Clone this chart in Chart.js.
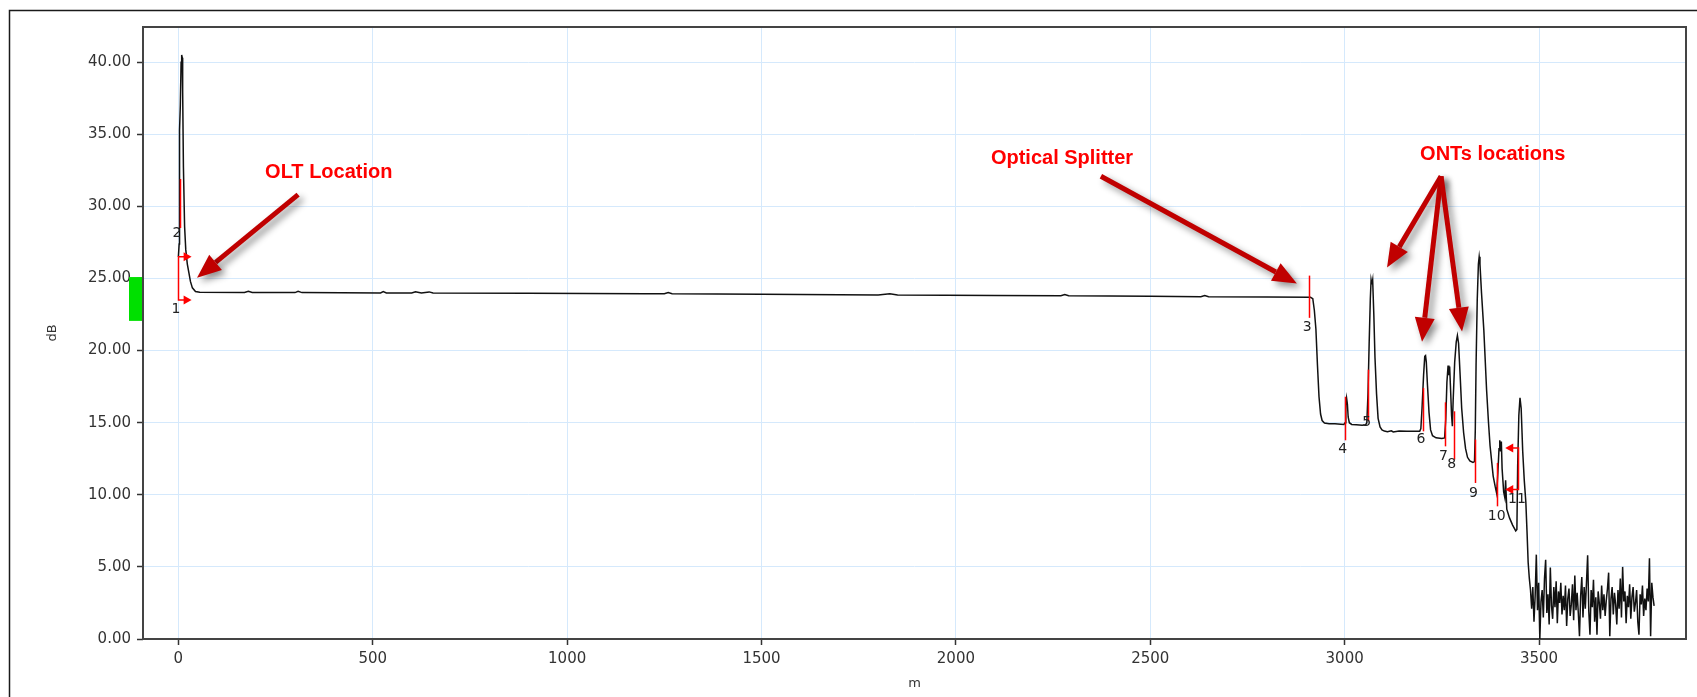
<!DOCTYPE html>
<html>
<head>
<meta charset="utf-8">
<script src="https://cdn.jsdelivr.net/npm/chart.js@4.4.1/dist/chart.umd.min.js"></script>
<style>
  html, body { margin: 0; padding: 0; background: #fff; }
  #wrap { position: relative; width: 1697px; height: 697px; }
</style>
</head>
<body>
<div id="wrap"><canvas id="otdr"></canvas></div>
<script>
// trace, distance in m / level in dB
const distM = [
  0, 2, 3, 5, 7, 8.5, 10, 11, 13, 16, 19, 23, 27, 31, 36, 44, 55,
  170, 180, 190, 300, 308, 318, 520, 527, 535, 600, 610, 625, 645, 655,
  900, 1200, 1250, 1260, 1270, 1500, 1800, 1830, 1850, 2100, 2270, 2280, 2290,
  2500, 2630, 2640, 2650, 2800, 2912,
  2918, 2922, 2926, 2930, 2934, 2938, 2942, 2948, 2960, 2975, 2990, 2998,
  3001, 3003, 3005, 3007, 3009, 3012, 3018, 3030, 3045, 3054,
  3057, 3060, 3063, 3066, 3068, 3070, 3072, 3075, 3078, 3082, 3086, 3091, 3096, 3102,
  3110, 3120, 3125, 3140, 3160, 3180, 3193,
  3196, 3199, 3203, 3206, 3208, 3210, 3213, 3217, 3221, 3226, 3235, 3250, 3257,
  3260, 3263, 3266, 3268, 3270, 3272, 3275, 3277,
  3279, 3283, 3287, 3290, 3293, 3297, 3301, 3306, 3311, 3316, 3322, 3330, 3334,
  3336, 3338, 3341, 3344, 3346, 3348, 3352, 3358, 3365, 3370, 3374, 3382, 3387, 3391,
  3394, 3397, 3399, 3401, 3403, 3405, 3409, 3412, 3414, 3417, 3424, 3432, 3440, 3443,
  3445, 3448, 3451, 3454, 3458, 3462, 3466, 3469, 3472, 3475
];
const lossDb = [
  26.5, 27.4, 35.3, 37.0, 40.0, 40.5, 40.3, 38.0, 32.7, 28.6, 27.0, 26.0, 25.4, 24.8, 24.35, 24.1, 24.04,
  24.03, 24.12, 24.03, 24.02, 24.11, 24.02, 24.00, 24.09, 24.00, 23.99, 24.08, 23.99, 24.07, 23.99,
  23.97, 23.95, 23.94, 24.02, 23.94, 23.91, 23.86, 23.94, 23.86, 23.82, 23.80, 23.88, 23.80,
  23.77, 23.74, 23.82, 23.74, 23.72, 23.70,
  23.6, 22.8, 21.5, 19.0, 16.8, 15.6, 15.15, 14.98, 14.93, 14.92, 14.9, 14.88,
  15.0, 16.2, 16.7, 16.3, 15.4, 15.0, 14.88, 14.85, 14.82, 14.85,
  15.0, 17.0, 20.5, 23.6, 24.9, 24.6, 24.9, 22.5, 19.5, 17.0, 15.3, 14.7, 14.5, 14.42,
  14.38, 14.44, 14.36, 14.42, 14.40, 14.40, 14.40,
  14.6, 16.0, 18.3, 19.6, 19.65, 19.2, 17.6, 15.7, 14.5, 14.1, 13.95, 13.9, 13.94,
  15.2, 17.8, 18.96, 18.3, 18.9, 17.6, 15.5, 14.75,
  16.5, 19.2, 20.6, 21.04, 20.5, 18.3, 16.0, 14.3, 13.2, 12.6, 12.35, 12.25, 12.3,
  14.5, 19.0, 23.5, 26.0, 26.5, 26.0, 24.0, 21.4, 17.3, 15.0, 13.4, 11.3, 10.6, 10.1,
  11.5, 13.2, 13.78, 13.0, 13.7, 11.8, 10.2, 9.8, 11.0, 9.0, 8.4, 7.9, 7.5, 7.6,
  12.0, 15.5, 16.72, 16.0, 13.0, 11.0, 9.5, 7.5, 5.3, 4.2
];
// noise floor after the last event, one sample every 3 m from 3478 m
const tailStart = 3478;
const tailStep = 3;
const tailDb = [
  3.4, 2.1, 3.6, 1.2, 3.0, 5.85, 2.0, 3.9, 0.0, 2.6, 3.4, 1.5, 4.2, 5.5, 1.8, 3.1, 1.0, 4.95, 2.3, 1.4,
  3.6, 2.2, 4.0, 1.1, 3.3, 2.5, 3.9, 1.7, 3.0, 2.0, 3.7, 0.9, 2.8, 3.5, 1.6, 2.4, 3.8, 1.3, 4.4, 2.0,
  3.2, 1.8, 0.2, 3.0, 4.3, 1.5, 3.6, 2.1, 3.9, 5.8, 1.9, 0.3, 3.4, 2.2, 4.1, 1.2, 2.9, 0.3, 3.3, 2.5,
  1.4, 3.7, 2.0, 3.1, 1.6, 2.7, 3.5, 4.6, 0.2, 2.8, 3.6, 1.7, 3.2, 2.4, 1.0, 3.4, 2.1, 4.2, 1.5, 5.0,
  2.6, 3.3, 1.1, 3.0, 2.2, 3.8, 1.4, 2.9, 3.6, 1.9, 2.5, 3.4, 1.2, 0.3, 3.1, 2.4, 3.7, 1.6, 2.8, 2.0,
  3.5, 2.6, 5.6, 0.2, 3.9, 2.9, 2.3
];

// axis ticks
const xTicks = [0, 500, 1000, 1500, 2000, 2500, 3000, 3500];
const yTicks = [0, 5, 10, 15, 20, 25, 30, 35, 40];

// event markers (red ticks) 2..10
const markDist   = [4, 2909, 3001, 3061, 3201, 3259, 3281, 3335, 3393];
const markTop    = [31.9, 25.2, 16.8, 18.68, 17.41, 16.41, 15.79, 13.83, 12.21];
const markBottom = [28.5, 22.27, 13.78, 15.1, 14.4, 13.36, 12.44, 10.82, 9.2];
// brackets with arrowheads (events 1 and 11)
const bracketDist   = [0, 3445];
const bracketTip    = [34, 3413];
const bracketTop    = [26.5, 13.25];
const bracketBottom = [23.5, 10.36];
// event numbers
const eventNo     = ["1", "2", "3", "4", "5", "6", "7", "8", "9", "10", "11"];
const eventNoDist = [-6, -3.4, 2903.6, 2995, 3057, 3196, 3254, 3275.5, 3331, 3391, 3443];
const eventNoDb   = [22.85, 28.12, 21.6, 13.13, 15.03, 13.83, 12.65, 12.09, 10.13, 8.5, 9.66];

// callouts
const calloutText = ["OLT Location", "Optical Splitter", "ONTs locations"];
const calloutDist = [223, 2090, 3194];
const calloutDb   = [32.0, 32.95, 33.25];
const arrowFromDist = [308, 2373, 3248, 3248, 3248];
const arrowFromDb   = [30.82, 32.09, 32.09, 32.09, 32.09];
const arrowToDist   = [48, 2877, 3109, 3199, 3302];
const arrowToDb     = [25.06, 24.65, 25.76, 20.62, 21.32];

// green level box at the left axis
const levelBox = [22.06, 25.1];

const points = distM.map((d, i) => ({ x: d, y: lossDb[i] }));
tailDb.forEach((v, i) => points.push({ x: tailStart + i * tailStep, y: v }));

function redArrowHead(ctx, x, y, dir){
  ctx.beginPath();
  ctx.moveTo(x, y);
  ctx.lineTo(x - dir * 8, y - 4.5);
  ctx.lineTo(x - dir * 8, y + 4.5);
  ctx.closePath();
  ctx.fill();
}

function bigArrow(ctx, x1, y1, x2, y2){
  const ang = Math.atan2(y2 - y1, x2 - x1);
  const headLen = 24, headHalf = 10;
  const bx = x2 - Math.cos(ang) * headLen, by = y2 - Math.sin(ang) * headLen;
  ctx.beginPath();
  ctx.moveTo(x1, y1);
  ctx.lineTo(bx, by);
  ctx.stroke();
  ctx.beginPath();
  ctx.moveTo(x2, y2);
  ctx.lineTo(bx + Math.sin(ang) * headHalf, by - Math.cos(ang) * headHalf);
  ctx.lineTo(bx - Math.sin(ang) * headHalf, by + Math.cos(ang) * headHalf);
  ctx.closePath();
  ctx.fill();
}

const overlay = {
  id: "overlay",
  beforeDraw(chart){
    const ctx = chart.ctx;
    ctx.save();
    ctx.strokeStyle = "#1a1a1a";
    ctx.lineWidth = 1.5;
    ctx.beginPath();
    ctx.moveTo(9.5, chart.height);
    ctx.lineTo(9.5, 10.5);
    ctx.lineTo(chart.width, 10.5);
    ctx.stroke();
    ctx.restore();
  },
  beforeDatasetsDraw(chart){
    const { ctx, chartArea: a, scales: { y } } = chart;
    ctx.save();
    ctx.strokeStyle = "#444";
    ctx.lineWidth = 2;
    ctx.strokeRect(a.left, a.top, a.right - a.left, a.bottom - a.top);
    const yt = y.getPixelForValue(levelBox[1]), yb = y.getPixelForValue(levelBox[0]);
    ctx.fillStyle = "#00e000";
    ctx.fillRect(a.left - 14, yt, 13, yb - yt);
    ctx.restore();
  },
  afterDatasetsDraw(chart){
    const { ctx, scales: { x, y } } = chart;
    ctx.save();
    // red event ticks
    ctx.strokeStyle = "#ff0000";
    ctx.fillStyle = "#ff0000";
    ctx.lineWidth = 1.5;
    markDist.forEach((d, i) => {
      const px = Math.round(x.getPixelForValue(d)) + 0.5;
      ctx.beginPath();
      ctx.moveTo(px, y.getPixelForValue(markTop[i]));
      ctx.lineTo(px, y.getPixelForValue(markBottom[i]));
      ctx.stroke();
    });
    bracketDist.forEach((d, i) => {
      const px = Math.round(x.getPixelForValue(d)) + 0.5;
      const tip = x.getPixelForValue(bracketTip[i]);
      const dir = tip > px ? 1 : -1;
      const yt = y.getPixelForValue(bracketTop[i]), yb = y.getPixelForValue(bracketBottom[i]);
      ctx.beginPath();
      ctx.moveTo(tip - dir * 6, yt); ctx.lineTo(px, yt);
      ctx.lineTo(px, yb); ctx.lineTo(tip - dir * 6, yb);
      ctx.stroke();
      redArrowHead(ctx, tip, yt, dir);
      redArrowHead(ctx, tip, yb, dir);
    });
    // event numbers
    ctx.fillStyle = "#222";
    ctx.font = "14px 'DejaVu Sans'";
    ctx.textAlign = "center";
    ctx.textBaseline = "middle";
    eventNo.forEach((t, i) => {
      ctx.fillText(t, x.getPixelForValue(eventNoDist[i]), y.getPixelForValue(eventNoDb[i]));
    });
    // callout arrows with shadow
    ctx.shadowColor = "rgba(0,0,0,0.45)";
    ctx.shadowBlur = 7;
    ctx.shadowOffsetX = 4;
    ctx.shadowOffsetY = 4;
    ctx.strokeStyle = "#c00000";
    ctx.fillStyle = "#c00000";
    ctx.lineWidth = 5;
    arrowFromDist.forEach((d, i) => {
      bigArrow(ctx, x.getPixelForValue(d), y.getPixelForValue(arrowFromDb[i]),
        x.getPixelForValue(arrowToDist[i]), y.getPixelForValue(arrowToDb[i]));
    });
    ctx.shadowColor = "transparent";
    ctx.fillStyle = "#ff0000";
    ctx.font = "bold 20px 'Liberation Sans'";
    ctx.textAlign = "left";
    ctx.textBaseline = "alphabetic";
    calloutText.forEach((t, i) => {
      ctx.fillText(t, x.getPixelForValue(calloutDist[i]), y.getPixelForValue(calloutDb[i]));
    });
    ctx.restore();
  }
};

Chart.defaults.font.family = "'DejaVu Sans', Verdana, sans-serif";

new Chart(document.getElementById("otdr"), {
  type: "line",
  data: {
    datasets: [{
      data: points,
      borderColor: "#111",
      borderWidth: 1.5,
      pointRadius: 0,
      tension: 0,
      fill: false
    }]
  },
  options: {
    responsive: true,
    maintainAspectRatio: false,
    animation: false,
    layout: { padding: { top: 27, right: 11, left: 0, bottom: 0 } },
    plugins: { legend: { display: false }, tooltip: { enabled: false } },
    scales: {
      x: {
        type: "linear", min: -91, max: 3878,
        afterBuildTicks(s){ s.ticks = xTicks.map(v => ({ value: v })); },
        ticks: { autoSkip: false, maxRotation: 0, color: "#333", font: { size: 15 }, padding: 5,
                 callback: v => String(v) },
        grid: { color: "#d5e9fc", tickColor: "#333", tickLength: 6, tickWidth: 1.5 },
        border: { display: false },
        title: { display: true, text: "m", color: "#333", font: { size: 13 }, padding: { top: 0, bottom: 6 } },
        afterFit(s){ s.height = 58; }
      },
      y: {
        min: 0, max: 42.44,
        afterBuildTicks(s){ s.ticks = yTicks.map(v => ({ value: v })); },
        ticks: { color: "#333", font: { size: 15 }, padding: 6,
                 callback: v => v.toFixed(2) },
        grid: { color: "#d5e9fc", tickColor: "#333", tickLength: 6, tickWidth: 1.5 },
        border: { display: false },
        title: { display: true, text: "dB", color: "#333", font: { size: 13 }, padding: { top: 45, bottom: 0 } },
        afterFit(s){ s.width = 143; }
      }
    }
  },
  plugins: [overlay]
});
</script>
</body>
</html>
